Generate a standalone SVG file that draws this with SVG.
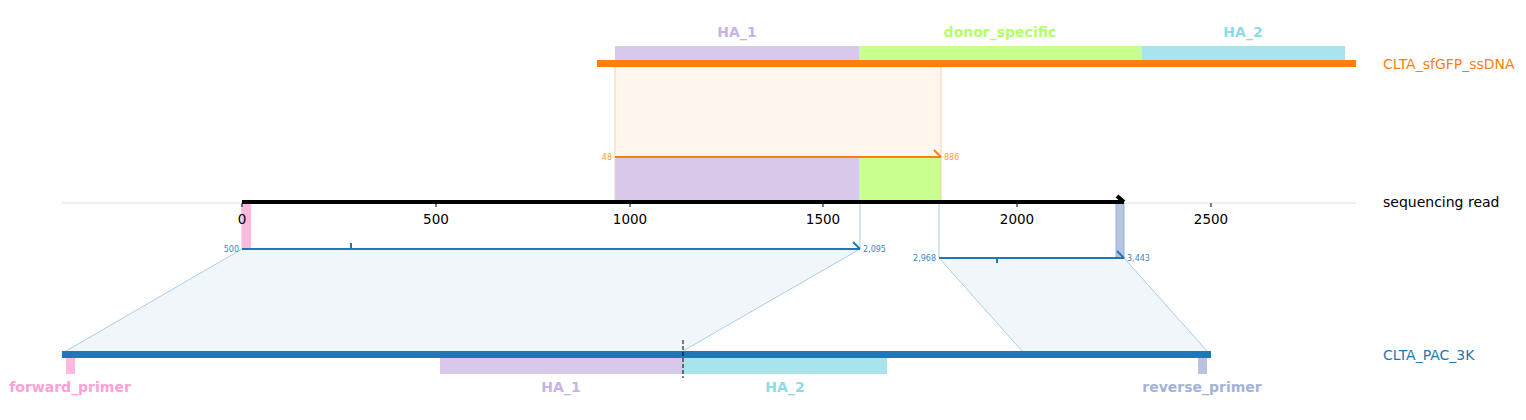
<svg xmlns="http://www.w3.org/2000/svg" width="1526" height="420" viewBox="0 0 1526 420">
<style>
text{font-family:"DejaVu Sans",sans-serif}
.flab{font-size:14px;font-weight:bold;text-anchor:middle}
.tick{font-size:13.5px;fill:#000;text-anchor:middle}
.sm{font-size:8px}
.name{font-size:14px}
.proj{stroke:#a9cde6;stroke-width:1;fill:none}
</style>
<rect width="1526" height="420" fill="#fff"/>

<g id="alignment-ssdna">
<rect x="615" y="67" width="326" height="90" fill="#fff6ee"/>
<rect x="615" y="157" width="244" height="44" fill="#d8c8ea"/>
<rect x="859" y="157" width="82" height="44" fill="#c8ff8e"/>
<line x1="615" y1="67" x2="615" y2="202" stroke="#ffcfa8" stroke-width="1"/>
<line x1="941" y1="67" x2="941" y2="202" stroke="#ffcfa8" stroke-width="1"/>
<line x1="615" y1="157" x2="941" y2="157" stroke="#ff7f0e" stroke-width="2"/>
<line x1="934" y1="150" x2="941" y2="157" stroke="#ff7f0e" stroke-width="2"/>
<text class="sm" x="612" y="160" fill="#ff9a45" text-anchor="end">48</text>
<text class="sm" x="944" y="160" fill="#ff9a45">886</text>
</g>

<g id="connectors">
<polygon points="242,249 860,249 683,351 66,351" fill="#f1f6fa"/>
<line class="proj" x1="242" y1="249" x2="66" y2="351"/>
<line class="proj" x1="860" y1="249" x2="683" y2="351"/>
<polygon points="939,258 1124,258 1207,351 1022,351" fill="#f1f6fa"/>
<line class="proj" x1="939" y1="258" x2="1022" y2="351"/>
<line class="proj" x1="1124" y1="258" x2="1207" y2="351"/>
<line class="proj" x1="242" y1="203" x2="242" y2="249"/>
<line class="proj" x1="860" y1="203" x2="860" y2="249"/>
<line class="proj" x1="939" y1="203" x2="939" y2="258"/>
<rect x="242" y="203" width="9" height="46" fill="#ffb8de"/>
<rect x="1116" y="203" width="8" height="55" fill="#b8c4de" stroke="#8fb4dc" stroke-width="1"/>
</g>

<g id="axis">
<line x1="62" y1="203" x2="1356" y2="203" stroke="#e0e0e0" stroke-width="1"/>
<g stroke="#000" stroke-width="1">
<line x1="242" y1="203" x2="242" y2="207"/><line x1="436" y1="203" x2="436" y2="207"/><line x1="630" y1="203" x2="630" y2="207"/><line x1="823" y1="203" x2="823" y2="207"/><line x1="1017" y1="203" x2="1017" y2="207"/><line x1="1211" y1="203" x2="1211" y2="207"/>
</g>
<text class="tick" x="242" y="224">0</text>
<text class="tick" x="436" y="224">500</text>
<text class="tick" x="630" y="224">1000</text>
<text class="tick" x="823" y="224">1500</text>
<text class="tick" x="1017" y="224">2000</text>
<text class="tick" x="1211" y="224">2500</text>
</g>

<g id="alignment-pac1">
<line x1="242" y1="249" x2="860" y2="249" stroke="#1f77b4" stroke-width="2"/>
<line x1="351" y1="243" x2="351" y2="249" stroke="#1f77b4" stroke-width="2"/>
<line x1="853" y1="242" x2="860" y2="249" stroke="#1f77b4" stroke-width="2"/>
<text class="sm" x="239" y="252" fill="#3a86c0" text-anchor="end">500</text>
<text class="sm" x="863" y="252" fill="#3a86c0">2,095</text>
</g>

<g id="alignment-pac2">
<line x1="939" y1="258" x2="1124" y2="258" stroke="#1f77b4" stroke-width="2"/>
<line x1="997" y1="258" x2="997" y2="263" stroke="#1f77b4" stroke-width="2"/>
<line x1="1117" y1="251" x2="1124" y2="258" stroke="#1f77b4" stroke-width="2"/>
<text class="sm" x="936" y="261" fill="#3a86c0" text-anchor="end">2,968</text>
<text class="sm" x="1127" y="261" fill="#3a86c0">3,443</text>
</g>

<g id="read">
<line x1="242" y1="202" x2="1124" y2="202" stroke="#000" stroke-width="4"/>
<line x1="1117" y1="196" x2="1124" y2="202" stroke="#000" stroke-width="4"/>
<text class="name" x="1383" y="207" fill="#000">sequencing read</text>
</g>

<g id="ssdna">
<rect x="615" y="46" width="244" height="14" fill="#d8c8ea"/>
<rect x="859" y="46" width="283" height="14" fill="#c8ff8e"/>
<rect x="1142" y="46" width="203" height="14" fill="#a9e4ec"/>
<line x1="597" y1="63.5" x2="1356" y2="63.5" stroke="#ff7f0e" stroke-width="7"/>
<text class="flab" x="737" y="37" fill="#c8b2e6">HA_1</text>
<text class="flab" x="1000" y="37" fill="#b4ff6a">donor_specific</text>
<text class="flab" x="1243" y="37" fill="#8edbe8">HA_2</text>
<text class="name" x="1383" y="69" fill="#ff7f0e">CLTA_sfGFP_ssDNA</text>
</g>

<g id="pac3k">
<line x1="62" y1="354.5" x2="1211" y2="354.5" stroke="#1f77b4" stroke-width="7"/>
<rect x="66" y="358" width="9" height="16" fill="#ffb8de"/>
<rect x="440" y="358" width="243" height="16" fill="#d8c8ea"/>
<rect x="683" y="358" width="204" height="16" fill="#a9e4ec"/>
<rect x="1198" y="358" width="9" height="16" fill="#b8c4de"/>
<line x1="683" y1="340" x2="683" y2="378" stroke="#000" stroke-width="1" stroke-dasharray="4,2"/>
<text class="flab" x="70" y="392" fill="#ffa0d6">forward_primer</text>
<text class="flab" x="561" y="392" fill="#c8b2e6">HA_1</text>
<text class="flab" x="785" y="392" fill="#8edbe8">HA_2</text>
<text class="flab" x="1202" y="392" fill="#a4b2d8">reverse_primer</text>
<text class="name" x="1383" y="360" fill="#1f77b4">CLTA_PAC_3K</text>
</g>
</svg>
